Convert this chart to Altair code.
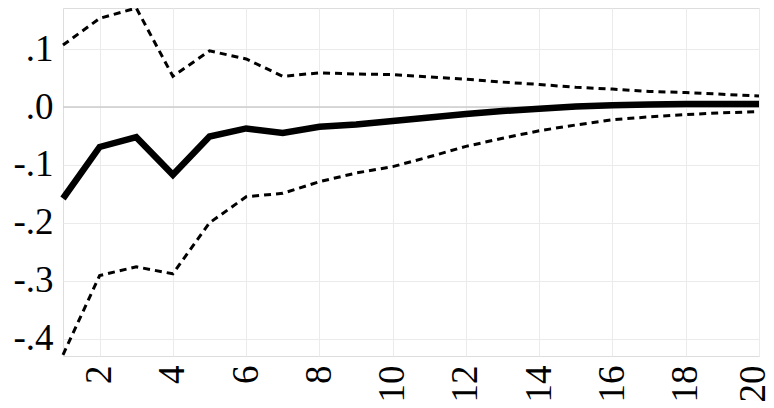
import altair as alt
import pandas as pd

horizon = list(range(1, 21))
irf = [-0.158, -0.069, -0.052, -0.117, -0.051, -0.037, -0.045, -0.034, -0.030, -0.024,
       -0.018, -0.012, -0.007, -0.003, 0.001, 0.003, 0.0045, 0.005, 0.005, 0.005]
upper = [0.107, 0.153, 0.171, 0.053, 0.097, 0.083, 0.053, 0.059, 0.057, 0.056,
         0.052, 0.048, 0.043, 0.039, 0.034, 0.031, 0.027, 0.025, 0.022, 0.019]
lower = [-0.428, -0.291, -0.276, -0.288, -0.200, -0.155, -0.149, -0.129, -0.114, -0.103,
         -0.086, -0.068, -0.054, -0.041, -0.031, -0.022, -0.017, -0.013, -0.010, -0.008]
y_ticks = [-0.4, -0.3, -0.2, -0.1, 0.0, 0.1]
x_ticks = [2, 4, 6, 8, 10, 12, 14, 16, 18, 20]

df_irf = pd.DataFrame({"h": horizon, "v": irf})
df_band = pd.concat([
    pd.DataFrame({"h": horizon, "v": upper, "s": "upper"}),
    pd.DataFrame({"h": horizon, "v": lower, "s": "lower"}),
])
df_zero = pd.DataFrame({"z": [0.0]})

FONT = "Liberation Serif"
xscale = alt.Scale(domain=[1, 20], nice=False, zero=False)
yscale = alt.Scale(domain=[-0.43, 0.171], nice=False, zero=False)

xaxis = alt.Axis(values=x_ticks, labelAngle=-90, title=None, domain=False, ticks=False,
                 labelPadding=9, labelFontSize=37, labelColor="black",
                 labelOffset={"condition": {"test": "datum.value == 20", "value": -6}, "value": 0},
                 labelBound=False,
                 gridColor="#ebebeb", gridWidth=1)
yaxis = alt.Axis(values=y_ticks, title=None, domain=False, ticks=False, labelPadding=10,
                 labelFontSize=37, labelColor="black",
                 gridColor="#ebebeb", gridWidth=1,
                 labelExpr="(datum.value < -0.0001 ? '-' : '') + replace(format(abs(datum.value), '.1f'), '0.', '.')")

zero = alt.Chart(df_zero).mark_rule(color="#cccccc", strokeWidth=1.6).encode(
    y=alt.Y("z:Q", scale=yscale, axis=yaxis)
)
band = alt.Chart(df_band).mark_line(color="black", strokeWidth=3, strokeDash=[7, 5]).encode(
    x=alt.X("h:Q", scale=xscale, axis=xaxis),
    y=alt.Y("v:Q", scale=yscale, axis=yaxis),
    detail="s:N",
)
main = alt.Chart(df_irf).mark_line(color="black", strokeWidth=6.5).encode(
    x=alt.X("h:Q", scale=xscale, axis=xaxis),
    y=alt.Y("v:Q", scale=yscale, axis=yaxis),
)

chart = alt.layer(zero, band, main).properties(
    width=696, height=348,
    autosize=alt.AutoSizeParams(type="none"),
    padding={"left": 55, "top": 0, "right": 7, "bottom": 52},
).configure_view(stroke="transparent", strokeWidth=0).configure(
    background="white", font=FONT
).configure_axis(labelFont=FONT)

chart.save("out.html", embed_options={"renderer": "svg", "actions": False})
